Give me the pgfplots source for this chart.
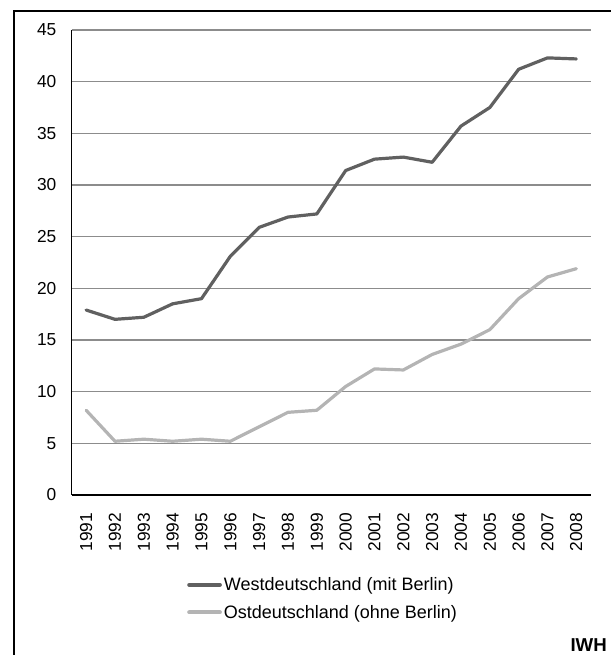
\documentclass[border=0pt]{standalone}
\usepackage{pgfplots}
\pgfplotsset{compat=1.18}
\usepackage{fontspec}
\setmainfont{Liberation Sans}
\definecolor{westc}{HTML}{606060}
\definecolor{ostc}{HTML}{B4B4B4}
\definecolor{gridc}{HTML}{8C8C8C}
\begin{document}
\begin{tikzpicture}
\useasboundingbox (-53.8pt,-120pt) rectangle (403.7pt,371.25pt);
\begin{axis}[
  at={(0pt,0pt)}, anchor=south west,
  scale only axis,
  width=389.25pt, height=348.75pt,
  xmin=1990.5, xmax=2008.5,
  ymin=0, ymax=45,
  xtick={1991,...,2008},
  ytick={0,5,...,45},
  axis x line*=bottom, axis y line*=left,
  axis line style={black, line width=1pt, -},
  ymajorgrids,
  major grid style={gridc, line width=0.8pt},
  major tick length=0pt,
  /pgf/number format/assume math mode=true,
  /pgf/number format/1000 sep={},
  ticklabel style={font=\fontsize{13}{15}\selectfont},
  x tick label style={rotate=90, anchor=east},
  xticklabel shift=10pt,
  yticklabel shift=8pt,
  legend style={at={(0.222,-0.172)}, anchor=north west, draw=none, fill=none,
    font=\fontsize{13.5}{15}\selectfont, inner sep=0pt, row sep=6.5pt,
    nodes={inner sep=1.5pt}},
  legend cell align=left,
  legend image code/.code={\draw[#1, line width=3pt] (0pt,0pt) -- (23pt,0pt);},
  clip=false,
]
\addplot[westc, line width=2.4pt, line join=round, line cap=round] coordinates {
(1991,17.9) (1992,17.0) (1993,17.2) (1994,18.5) (1995,19.0) (1996,23.1)
(1997,25.9) (1998,26.9) (1999,27.2) (2000,31.4) (2001,32.5) (2002,32.7)
(2003,32.2) (2004,35.7) (2005,37.5) (2006,41.2) (2007,42.3) (2008,42.2)};
\addlegendentry{Westdeutschland (mit Berlin)}
\addplot[ostc, line width=2.4pt, line join=round, line cap=round] coordinates {
(1991,8.2) (1992,5.2) (1993,5.4) (1994,5.2) (1995,5.4) (1996,5.2)
(1997,6.6) (1998,8.0) (1999,8.2) (2000,10.5) (2001,12.2) (2002,12.1)
(2003,13.6) (2004,14.6) (2005,16.0) (2006,19.0) (2007,21.1) (2008,21.9)};
\addlegendentry{Ostdeutschland (ohne Berlin)}
\end{axis}
\draw[black, line width=2pt] (-43.3pt,-130pt) -- (-43.3pt,363pt) -- (415pt,363pt);
\node[anchor=base east, inner sep=0pt, font=\fontsize{14}{16}\selectfont\bfseries] at (401.5pt,-117pt) {IWH};
\end{tikzpicture}
\end{document}
